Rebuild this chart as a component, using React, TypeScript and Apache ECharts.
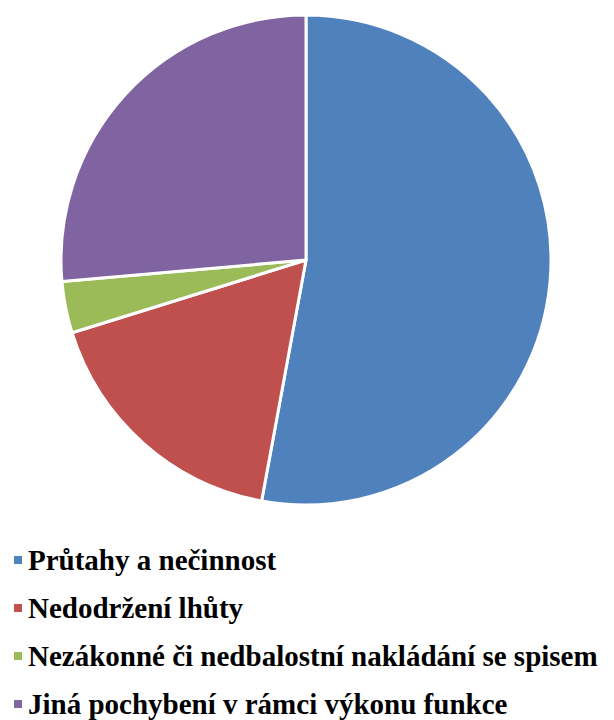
import React, { useEffect, useRef } from "react";
import * as echarts from "echarts";

const categories = [
  "Průtahy a nečinnost",
  "Nedodržení lhůty",
  "Nezákonné či nedbalostní nakládání se spisem",
  "Jiná pochybení v rámci výkonu funkce",
];
const values = [52.9, 17.3, 3.4, 26.4];
const colors = ["#4F81BD", "#C0504D", "#9BBB59", "#8064A2"];

export default function App() {
  const ref = useRef<HTMLDivElement>(null);
  useEffect(() => {
    document.body.style.margin = "0";
    const chart = echarts.init(ref.current!, undefined, { renderer: "svg" });
    chart.setOption({
      animation: false,
      color: colors,
      legend: {
        orient: "vertical",
        left: 7,
        top: 540,
        height: 190,
        itemWidth: 10,
        itemHeight: 10,
        itemGap: 18,
        icon: "rect",
        selectedMode: false,
        textStyle: {
          fontFamily: "'Times New Roman', 'Liberation Serif', serif",
          fontWeight: "bold",
          fontSize: 29,
          lineHeight: 30,
          color: "#000",
        },
        data: categories,
      },
      series: [
        {
          type: "pie",
          center: [306, 260],
          radius: 245,
          startAngle: 90,
          clockwise: true,
          label: { show: false },
          labelLine: { show: false },
          emphasis: { disabled: true },
          itemStyle: { borderColor: "#fff", borderWidth: 3 },
          data: categories.map((name, i) => ({ name, value: values[i] })),
        },
      ],
    });
    return () => chart.dispose();
  }, []);
  return <div ref={ref} style={{ width: 614, height: 720 }} />;
}
